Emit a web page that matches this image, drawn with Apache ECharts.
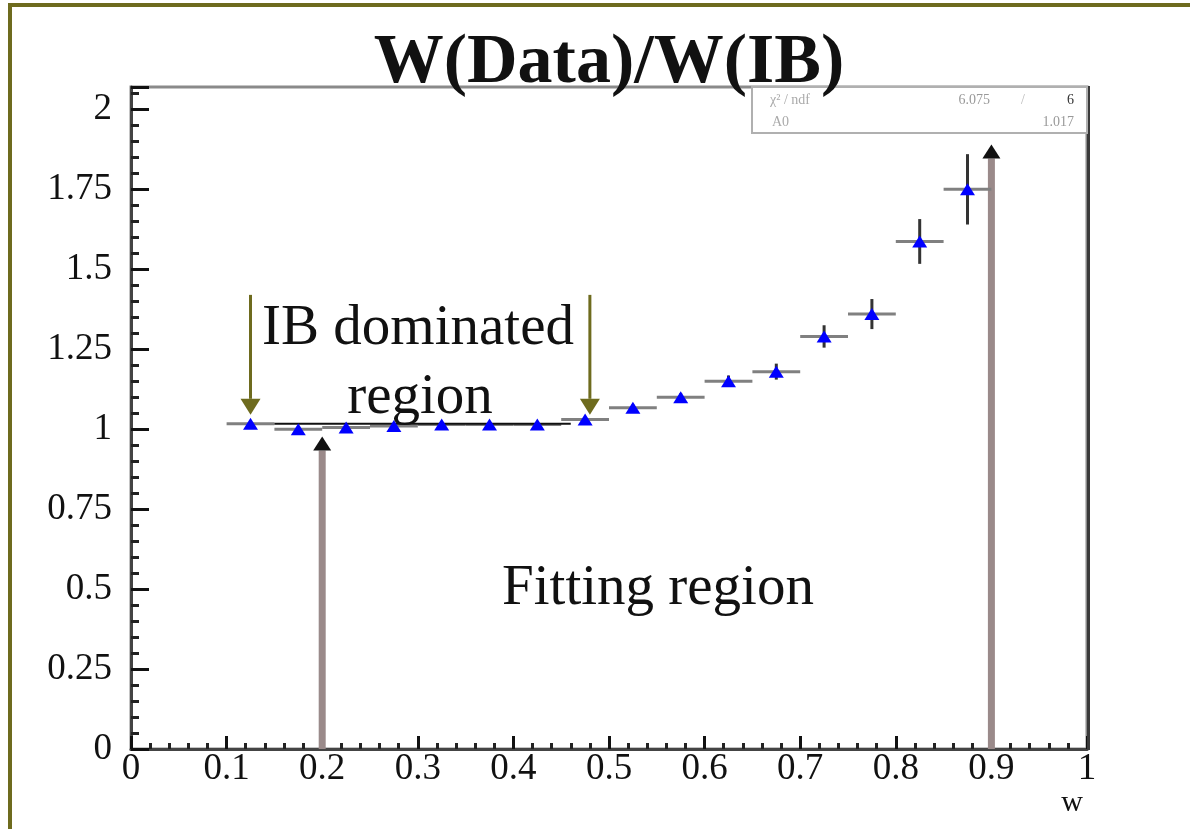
<!DOCTYPE html>
<html>
<head>
<meta charset="utf-8">
<script src="https://cdn.jsdelivr.net/npm/echarts@6/dist/echarts.min.js"></script>
<style>
html,body{margin:0;padding:0;background:#fff;}
#chart{width:1190px;height:829px;}
</style>
</head>
<body>
<div id="chart"></div>
<script>
// ---- data ----
const binCenters = [0.125,0.175,0.225,0.275,0.325,0.375,0.425,0.475,0.525,0.575,0.625,0.675,0.725,0.775,0.825,0.875];
const ratioValues = [1.017,1.000,1.005,1.010,1.015,1.015,1.015,1.030,1.067,1.100,1.150,1.180,1.290,1.360,1.587,1.750];
const ratioErrors = [0.008,0.008,0.008,0.008,0.008,0.008,0.008,0.008,0.010,0.012,0.018,0.025,0.035,0.047,0.070,0.110];
const binHalfWidth = 0.025;
const fitRange = [0.15, 0.46];
const fitA0 = 1.017;
const downArrowX = [0.125, 0.48];
const downArrowY = [1.42, 1.045];
const upArrowX = [0.2, 0.9];
const upArrowTipY = [0.977, 1.89];
const xTicks = [0,0.1,0.2,0.3,0.4,0.5,0.6,0.7,0.8,0.9,1];
const yTicks = [0,0.25,0.5,0.75,1,1.25,1.5,1.75,2];
const statsLines = [["\u03c7\u00b2 / ndf", "6.075", "/", "6"], ["A0", "1.017"]];

const serif = "'Liberation Serif','DejaVu Serif',serif";

const chart = echarts.init(document.getElementById('chart'));

const errData = binCenters.map((x,i)=>[x, ratioValues[i], ratioErrors[i], binHalfWidth]);
const pointData = binCenters.map((x,i)=>[x, ratioValues[i]]);
const downData = downArrowX.map(x=>[x, downArrowY[0], downArrowY[1], 0]);
const upData = upArrowX.map((x,i)=>[x, 0, upArrowTipY[i], 1]);

function arrowRender(params, api){
  const x = api.value(0), y0 = api.value(1), y1 = api.value(2), kind = api.value(3);
  const p0 = api.coord([x,y0]);
  const p1 = api.coord([x,y1]);
  const dir = p1[1] < p0[1] ? -1 : 1;
  const headLen = kind === 1 ? 14 : 16;
  const headW = kind === 1 ? 9 : 10;
  const shaftColor = kind === 1 ? '#9a8a8a' : '#6e6b1e';
  const headColor = kind === 1 ? '#111' : '#6e6b1e';
  const shaftW = kind === 1 ? 7 : 3;
  const baseY = p1[1] - dir*headLen;
  return {type:'group', children:[
    {type:'line', shape:{x1:p0[0],y1:p0[1],x2:p0[0],y2:baseY}, style:{stroke:shaftColor,lineWidth:shaftW}},
    {type:'polygon', shape:{points:[[p1[0],p1[1]],[p1[0]-headW,baseY],[p1[0]+headW,baseY]]}, style:{fill:headColor}}
  ]};
}

function yFmt(v){
  const k = v/0.25;
  if (Math.abs(k-Math.round(k))>1e-6) return '';
  return String(Math.round(v*100)/100);
}

const option = {
  backgroundColor:'#fff',
  animation:false,
  grid:{left:131,right:103,top:87,bottom:80,show:true,borderColor:'#8a8a8a',borderWidth:3,backgroundColor:'transparent'},
  xAxis:{
    type:'value',min:0,max:1,interval:0.1,
    axisLine:{show:true,lineStyle:{color:'#444',width:3}},
    axisTick:{show:true,inside:true,length:13,lineStyle:{color:'#111',width:3}},
    minorTick:{show:true,splitNumber:5,length:6,lineStyle:{color:'#222',width:3}},
    splitLine:{show:false},
    axisLabel:{color:'#111',fontFamily:serif,fontSize:37,margin:2,formatter:v=>String(Math.round(v*10)/10)}
  },
  yAxis:{
    type:'value',min:0,max:2.07,interval:0.25,
    axisLine:{show:true,lineStyle:{color:'#444',width:3}},
    axisTick:{show:true,inside:true,length:18,lineStyle:{color:'#111',width:3}},
    minorTick:{show:true,splitNumber:5,length:8,lineStyle:{color:'#222',width:3}},
    splitLine:{show:false},
    axisLabel:{color:'#111',fontFamily:serif,fontSize:37,margin:19,formatter:yFmt}
  },
  series:[
    {type:'custom',name:'arrowsUp',renderItem:arrowRender,data:upData,z:2,silent:true},
    {type:'custom',name:'arrowsDown',renderItem:arrowRender,data:downData,z:2,silent:true},
    {type:'custom',name:'errors',data:errData,z:3,silent:true,renderItem:function(params,api){
      const x=api.value(0), y=api.value(1), ey=api.value(2), ex=api.value(3);
      const l=api.coord([x-ex,y]), r=api.coord([x+ex,y]), t=api.coord([x,y+ey]), b=api.coord([x,y-ey]);
      return {type:'group',children:[
        {type:'line',shape:{x1:l[0],y1:l[1],x2:r[0],y2:r[1]},style:{stroke:'#808080',lineWidth:3}},
        {type:'line',shape:{x1:t[0],y1:t[1],x2:b[0],y2:b[1]},style:{stroke:'#333',lineWidth:3}}
      ]};
    }},
    {type:'line',name:'fit',data:[[fitRange[0],fitA0],[fitRange[1],fitA0]],showSymbol:false,symbol:'none',lineStyle:{color:'#111',width:2},z:4,silent:true},
    {type:'scatter',name:'ratio',data:pointData,symbol:'triangle',symbolSize:[15,12],itemStyle:{color:'#0000ff',opacity:1},z:5,silent:true}
  ],
  graphic:[
    {type:'rect',shape:{x:10,y:5,width:1200,height:850},style:{fill:'none',stroke:'#6e6b1e',lineWidth:4},z:1,silent:true},
    {type:'line',shape:{x1:1088.5,y1:86,x2:1088.5,y2:750},style:{stroke:'#3a3a3a',lineWidth:3},z:10,silent:true},
    {type:'rect',shape:{x:752,y:87,width:335,height:46},style:{fill:'#fff',stroke:'#b0b0b0',lineWidth:2},z:20,silent:true},
    {type:'text',x:770,y:100,style:{text:statsLines[0][0],fill:'#aaa',font:"14px "+serif,textVerticalAlign:'middle'},z:21,silent:true},
    {type:'text',x:990,y:100,style:{text:statsLines[0][1],fill:'#999',font:"14px "+serif,textAlign:'right',textVerticalAlign:'middle'},z:21,silent:true},
    {type:'text',x:1023,y:100,style:{text:statsLines[0][2],fill:'#bbb',font:"14px "+serif,textAlign:'center',textVerticalAlign:'middle'},z:21,silent:true},
    {type:'text',x:1074,y:100,style:{text:statsLines[0][3],fill:'#333',font:"14px "+serif,textAlign:'right',textVerticalAlign:'middle'},z:21,silent:true},
    {type:'text',x:772,y:122,style:{text:statsLines[1][0],fill:'#aaa',font:"14px "+serif,textVerticalAlign:'middle'},z:21,silent:true},
    {type:'text',x:1074,y:122,style:{text:statsLines[1][1],fill:'#999',font:"14px "+serif,textAlign:'right',textVerticalAlign:'middle'},z:21,silent:true},
    {type:'text',x:609,y:64,style:{text:'W(Data)/W(IB)',fill:'#111',font:"bold 70px "+serif,textAlign:'center',textVerticalAlign:'middle'},z:30,silent:true},
    {type:'text',x:418,y:329,style:{text:'IB dominated',fill:'#111',font:"57px "+serif,textAlign:'center',textVerticalAlign:'middle'},z:30,silent:true},
    {type:'text',x:420,y:398,style:{text:'region',fill:'#111',font:"57px "+serif,textAlign:'center',textVerticalAlign:'middle'},z:30,silent:true},
    {type:'text',x:658,y:589,style:{text:'Fitting region',fill:'#111',font:"57px "+serif,textAlign:'center',textVerticalAlign:'middle'},z:30,silent:true},
    {type:'text',x:1072,y:803,style:{text:'w',fill:'#111',font:"30px "+serif,textAlign:'center',textVerticalAlign:'middle'},z:30,silent:true}
  ]
};
chart.setOption(option);
</script>
</body>
</html>
